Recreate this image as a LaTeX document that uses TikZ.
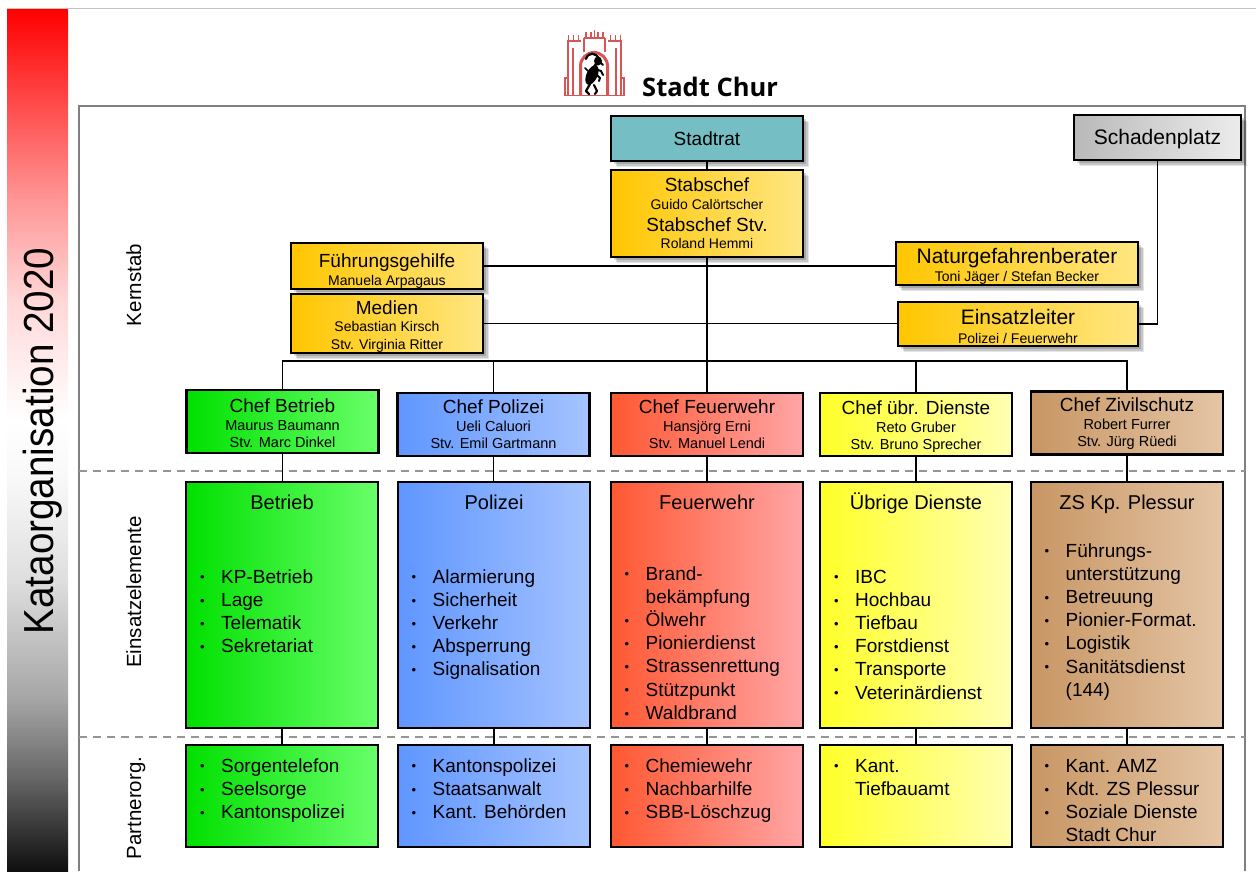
\documentclass[tikz,border=0pt]{standalone}
\usepackage{graphicx}
\usepackage{fontspec}
\setmainfont{Liberation Sans}
\newfontfamily\logofont{Open Sans}
\usetikzlibrary{shadows}

\definecolor{barRed}{RGB}{255,0,0}
\definecolor{barP1}{RGB}{255,150,150}
\definecolor{barP2}{RGB}{255,215,215}
\definecolor{barW}{RGB}{255,255,255}
\definecolor{barG0}{RGB}{248,248,248}
\definecolor{barG1}{RGB}{222,222,222}
\definecolor{barG2}{RGB}{165,165,165}
\definecolor{barG3}{RGB}{100,100,100}
\definecolor{barG4}{RGB}{15,15,15}
\definecolor{stadtTeal}{RGB}{116,190,196}
\definecolor{goldL}{RGB}{255,198,0}
\definecolor{goldR}{RGB}{255,230,130}
\definecolor{grayL}{RGB}{185,185,185}
\definecolor{grayR}{RGB}{236,236,236}
\definecolor{grnL}{RGB}{0,224,0}
\definecolor{grnR}{RGB}{105,255,105}
\definecolor{bluL}{RGB}{95,150,255}
\definecolor{bluR}{RGB}{165,195,255}
\definecolor{redL}{RGB}{255,88,50}
\definecolor{redR}{RGB}{255,165,165}
\definecolor{yelL}{RGB}{255,255,40}
\definecolor{yelR}{RGB}{255,255,178}
\definecolor{brnL}{RGB}{200,150,100}
\definecolor{brnR}{RGB}{228,197,165}
\definecolor{logoRed}{RGB}{214,86,86}
\definecolor{frameGray}{RGB}{128,128,128}
\definecolor{dashGray}{RGB}{150,150,150}
\definecolor{topGray}{RGB}{195,195,195}

\newcommand\fTit{\fontsize{19}{21}\selectfont}
\newcommand\fBig{\fontsize{21}{23}\selectfont}
\newcommand\fCol{\fontsize{20}{22}\selectfont}
\newcommand\fSub{\fontsize{14}{16}\selectfont}
\newcommand\fChs{\fontsize{14.5}{16}\selectfont}
\newcommand\fList{\fontsize{19}{23}\selectfont}
\newcommand\fSec{\fontsize{20.5}{22}\selectfont}
\newcommand\fKat{\fontsize{42}{44}\selectfont}
\newcommand\stk[3][0pt]{\vbox{\vskip#1\relax\baselineskip=#2\relax\lineskiplimit=-20pt\halign{\hfil##\hfil\cr#3\crcr}}}
\newcommand\bulmark{\makebox[21pt][l]{\fontsize{13}{13}\selectfont\raisebox{1.2pt}{\textbullet}}}
\newcommand\itm[1]{\hbox{\bulmark #1}}
\newcommand\itc[1]{\hbox{\kern21pt #1}}
\newcommand\blist[1]{\vtop{\fList\baselineskip=23.2pt\relax\lineskiplimit=-20pt #1}}

\tikzset{
  orgbox/.style={draw=black, line width=2.1pt, inner sep=0pt, text=black},
  kshadow/.style={
    drop shadow={shadow xshift=6pt, shadow yshift=-6pt, opacity=0.10, fill=black},
    drop shadow={shadow xshift=4.5pt, shadow yshift=-4.5pt, opacity=0.13, fill=black},
    drop shadow={shadow xshift=3pt, shadow yshift=-3pt, opacity=0.16, fill=black}},
  goldfill/.style={left color=goldL, right color=goldR},
  grayfill/.style={left color=grayL, right color=grayR},
  grnfill/.style={left color=grnL, right color=grnR},
  blufill/.style={left color=bluL, right color=bluR},
  redfill/.style={left color=redL, right color=redR},
  yelfill/.style={left color=yelL, right color=yelR},
  brnfill/.style={left color=brnL, right color=brnR},
  conn/.style={draw=black, line width=1.9pt},
  dashline/.style={draw=dashGray, line width=1.5pt, dash pattern=on 8pt off 6pt},
  listtext/.style={anchor=base west, inner sep=0pt, text=black},
  coltitle/.style={anchor=base, inner sep=0pt, font=\fCol, text=black},
  seclabel/.style={rotate=90, anchor=base, inner sep=0pt, font=\fSec, text=black},
  chefbox/.style={orgbox, minimum width=192pt, minimum height=63pt},
  einbox/.style={orgbox, minimum width=192pt, minimum height=246pt},
  partbox/.style={orgbox, minimum width=192pt, minimum height=102pt},
  logoline/.style={draw=logoRed, line width=1.5pt},
  ibexline/.style={draw=black, line cap=round, line join=round},
}

\begin{document}
\begin{tikzpicture}[x=1pt,y=-1pt]
\useasboundingbox (0,0) rectangle (1256,871);
\fill[white] (0,0) rectangle (1256,871);

% ---------- top thin line and side bar ----------
\draw[topGray, line width=1pt] (7,8) -- (1256,8);
\fill[top color=barRed, bottom color=barP1] (7,9) rectangle (68,200.6);
\fill[top color=barP1, bottom color=barP2] (7,200) rectangle (68,300.6);
\fill[top color=barP2, bottom color=barW] (7,300) rectangle (68,420.6);
\fill[top color=barW, bottom color=barG0] (7,420) rectangle (68,480.6);
\fill[top color=barG0, bottom color=barG1] (7,480) rectangle (68,580.6);
\fill[top color=barG1, bottom color=barG2] (7,580) rectangle (68,700.6);
\fill[top color=barG2, bottom color=barG3] (7,700) rectangle (68,780.6);
\fill[top color=barG3, bottom color=barG4] (7,780) rectangle (68,871);
\node[rotate=90, anchor=base, inner sep=0pt, font=\fKat, text=black] (kat) at (53,441) {\scalebox{0.92}[1]{Kataorganisation 2020}};

% ---------- logo ----------
\draw[logoline] (564,95.5) -- (625,95.5);
\draw[logoline] (565,95) -- (565,78) -- (568,78);
\draw[logoline] (624,95) -- (624,78) -- (621,78);
\draw[logoline] (568,95) -- (568,41);
\draw[logoline] (621,95) -- (621,41);
\draw[logoline] (573,95) -- (573,48);
\draw[logoline] (616,95) -- (616,48);
\draw[logoline, line width=3pt] (580.5,95) -- (580.5,66) arc[start angle=180, end angle=360, radius=13.5] -- (607.5,95);
\draw[logoline] (567,41) -- (581,41);
\draw[logoline] (584,38) -- (605,38);
\draw[logoline] (608,41) -- (622,41);
\draw[logoline] (584,38) -- (584,52);
\draw[logoline] (605,38) -- (605,52);
\foreach \mx in {568.5,573.5,578.5} \draw[logoline] (\mx,41) -- (\mx,35);
\foreach \mx in {586,591,598,603} \draw[logoline] (\mx,38) -- (\mx,32);
\draw[logoline] (594.5,38) -- (594.5,30);
\foreach \mx in {610.5,615.5,620.5} \draw[logoline] (\mx,41) -- (\mx,35);
% ibex (rampant, facing right)
\fill[black, rotate around={-25:(592,75)}] (592,75) ellipse [x radius=5.5, y radius=10.5];
\fill[black] (598,61) ellipse [x radius=4, y radius=4.5];
\draw[ibexline, line width=2.6pt] (596,64) -- (593,69);
\draw[ibexline, line width=2.2pt] (599,59) .. controls (596,52) and (588,52) .. (586,59);
\draw[ibexline, line width=1.8pt] (600,62) -- (603,65);
\draw[ibexline, line width=2pt] (595,69) -- (601,71) -- (603,75);
\draw[ibexline, line width=2pt] (595,73) -- (600,78) -- (599,81);
\draw[ibexline, line width=2.2pt] (590,84) -- (586,91) -- (589,94);
\draw[ibexline, line width=2.2pt] (594,85) -- (597,91) -- (595,94);
\draw[ibexline, line width=1.6pt] (588,71) -- (585,68);
\node[anchor=base west, inner sep=0pt, font=\logofont\bfseries\fontsize{25.5}{27}\selectfont, text=black] (stadtchur) at (642,96) {Stadt Chur};

% ---------- frame and separators ----------
\draw[frameGray, line width=1.5pt] (79,871) -- (79,106) -- (1245,106) -- (1245,871);
\draw[dashline] (79,471) -- (1245,471);
\draw[dashline] (79,737) -- (1245,737);

\node[seclabel] (lkern) at (141,285) {Kernstab};
\node[seclabel] (lein) at (141,592) {Einsatzelemente};
\node[seclabel] (lpart) at (141,808) {Partnerorg.};

% ---------- Kernstab ----------
\node[orgbox, kshadow, fill=stadtTeal, minimum width=192pt, minimum height=45pt] (stadtrat) at (707,138.5) {\fTit Stadtrat};
\node[orgbox, kshadow, goldfill, minimum width=192pt, minimum height=87pt] (stabschef) at (707,213.5)
  {\stk{17.5pt}{{\fTit Stabschef}\cr{\fSub Guido Calörtscher}\cr\noalign{\vskip4.5pt}{\fTit Stabschef Stv.}\cr{\fSub Roland Hemmi}}};
\node[orgbox, kshadow, grayfill, minimum width=167pt, minimum height=45pt] (schaden) at (1157.5,137.5)
  {\stk[4pt]{20pt}{{\fBig Schadenplatz}}};
\node[orgbox, kshadow, goldfill, minimum width=192pt, minimum height=46pt] (fuehr) at (387,266)
  {\stk[10pt]{17.7pt}{{\fTit Führungsgehilfe}\cr{\fSub Manuela Arpagaus}}};
\node[orgbox, kshadow, goldfill, minimum width=192pt, minimum height=59pt] (medien) at (387,323.5)
  {\stk[6pt]{17.5pt}{{\fTit Medien}\cr{\fSub Sebastian Kirsch}\cr{\fSub Stv. Virginia Ritter}}};
\node[orgbox, kshadow, goldfill, minimum width=242pt, minimum height=43pt] (natur) at (1017,263.5)
  {\stk[6pt]{18.5pt}{{\fBig Naturgefahrenberater}\cr{\fSub Toni Jäger / Stefan Becker}}};
\node[orgbox, kshadow, goldfill, minimum width=240pt, minimum height=44pt] (einsatz) at (1018,324)
  {\stk[5pt]{18.5pt}{{\fBig Einsatzleiter}\cr{\fSub Polizei / Feuerwehr}}};

% ---------- Chefs ----------
\node[chefbox, grnfill] (cB) at (282.5,421.5)
  {\stk[4pt]{17.6pt}{{\fTit Chef Betrieb}\cr{\fChs Maurus Baumann}\cr{\fChs Stv. Marc Dinkel}}};
\node[chefbox, blufill] (cP) at (493.5,424.5)
  {\stk{17.6pt}{{\fTit Chef Polizei}\cr{\fChs Ueli Caluori}\cr{\fChs Stv. Emil Gartmann}}};
\node[chefbox, redfill] (cF) at (707,424.5)
  {\stk{17.6pt}{{\fTit Chef Feuerwehr}\cr{\fChs Hansjörg Erni}\cr{\fChs Stv. Manuel Lendi}}};
\node[chefbox, yelfill] (cU) at (916,424.5)
  {\stk[5pt]{17.6pt}{{\fTit Chef übr. Dienste}\cr{\fChs Reto Gruber}\cr{\fChs Stv. Bruno Sprecher}}};
\node[chefbox, brnfill] (cZ) at (1127,423)
  {\stk[2pt]{17.6pt}{{\fTit Chef Zivilschutz}\cr{\fChs Robert Furrer}\cr{\fChs Stv. Jürg Rüedi}}};

% ---------- Einsatzelemente ----------
\node[einbox, grnfill] (eB) at (282,605) {};
\node[einbox, blufill] (eP) at (494,605) {};
\node[einbox, redfill] (eF) at (707,605) {};
\node[einbox, yelfill] (eU) at (916,605) {};
\node[einbox, brnfill] (eZ) at (1127,605) {};

\node[coltitle] (tB) at (282,509) {Betrieb};
\node[coltitle] (tP) at (494,509) {Polizei};
\node[coltitle] (tF) at (707,509) {Feuerwehr};
\node[coltitle] (tU) at (916,509) {Übrige Dienste};
\node[coltitle] (tZ) at (1127,509) {ZS Kp. Plessur};

\node[listtext] (lB) at (200,583) {\blist{\itm{KP-Betrieb}\itm{Lage}\itm{Telematik}\itm{Sekretariat}}};
\node[listtext] (lP) at (411.5,583) {\blist{\itm{Alarmierung}\itm{Sicherheit}\itm{Verkehr}\itm{Absperrung}\itm{Signalisation}}};
\node[listtext] (lF) at (624.5,580) {\blist{\itm{Brand-}\itc{bekämpfung}\itm{Ölwehr}\itm{Pionierdienst}\itm{Strassenrettung}\itm{Stützpunkt}\itm{Waldbrand}}};
\node[listtext] (lU) at (834,583) {\blist{\itm{IBC}\itm{Hochbau}\itm{Tiefbau}\itm{Forstdienst}\itm{Transporte}\itm{Veterinärdienst}}};
\node[listtext] (lZ) at (1044.5,557) {\blist{\itm{Führungs-}\itc{unterstützung}\itm{Betreuung}\itm{Pionier-Format.}\itm{Logistik}\itm{Sanitätsdienst}\itc{(144)}}};

% ---------- Partnerorganisationen ----------
\node[partbox, grnfill] (pB) at (282,796) {};
\node[partbox, blufill] (pP) at (494,796) {};
\node[partbox, redfill] (pF) at (707,796) {};
\node[partbox, yelfill] (pU) at (916,796) {};
\node[partbox, brnfill] (pZ) at (1127,796) {};

\node[listtext] (qB) at (200,772) {\blist{\itm{Sorgentelefon}\itm{Seelsorge}\itm{Kantonspolizei}}};
\node[listtext] (qP) at (411.5,772) {\blist{\itm{Kantonspolizei}\itm{Staatsanwalt}\itm{Kant. Behörden}}};
\node[listtext] (qF) at (624.5,772) {\blist{\itm{Chemiewehr}\itm{Nachbarhilfe}\itm{SBB-Löschzug}}};
\node[listtext] (qU) at (834,772) {\blist{\itm{Kant.}\itc{Tiefbauamt}}};
\node[listtext] (qZ) at (1044.5,772) {\blist{\itm{Kant. AMZ}\itm{Kdt. ZS Plessur}\itm{Soziale Dienste}\itc{Stadt Chur}}};

% ---------- connectors ----------
\coordinate (bus) at (707,361);
\draw[conn] (stadtrat.south) -- (stabschef.north);
\draw[conn] (stabschef.south) -- (bus);
\draw[conn] (fuehr.east) -- (fuehr.east -| natur.west);
\draw[conn] (medien.east) -- (medien.east -| einsatz.west);
\draw[conn] (schaden.south) |- (einsatz.east);
\draw[conn] (cB.north) -- (cB.north |- bus) -- (cZ.north |- bus) -- (cZ.north);
\draw[conn] (cP.north |- bus) -- (cP.north);
\draw[conn] (cF.north |- bus) -- (cF.north);
\draw[conn] (cU.north |- bus) -- (cU.north);
\foreach \c/\e/\p in {cB/eB/pB, cP/eP/pP, cF/eF/pF, cU/eU/pU, cZ/eZ/pZ}{
  \draw[conn] (\c.south) -- (\c.south |- \e.north);
  \draw[conn] (\e.south) -- (\e.south |- \p.north);
}
\end{tikzpicture}
\end{document}
